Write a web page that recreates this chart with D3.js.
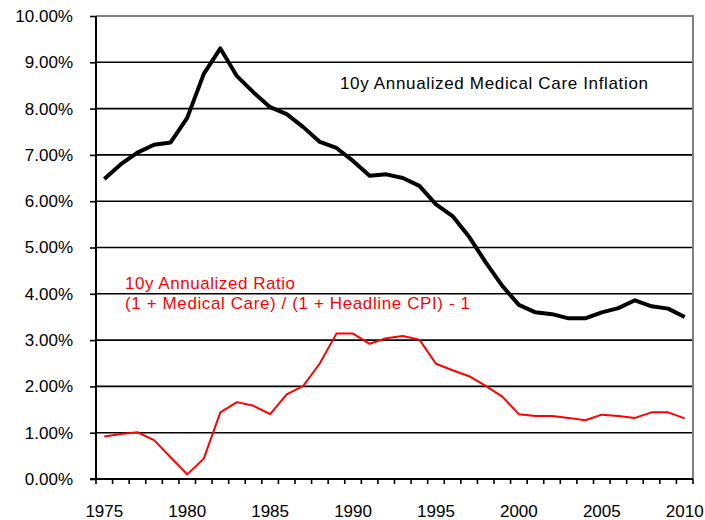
<!DOCTYPE html>
<html>
<head>
<meta charset="utf-8">
<script src="https://cdn.jsdelivr.net/npm/d3@7"></script>
<style>
  body { margin: 0; background: #fff; }
  svg text { font-family: "Liberation Sans", Arial, sans-serif; }
</style>
</head>
<body>
<div id="chart"></div>
<script>
// 10y annualized rates, in percent
var years = d3.range(1975, 2011);
var medicalCare = [6.48, 6.80, 7.05, 7.22, 7.27, 7.80, 8.75, 9.30, 8.70, 8.35,
    8.03, 7.88, 7.60, 7.28, 7.15, 6.87, 6.55, 6.58, 6.50, 6.33,
    5.93, 5.68, 5.23, 4.68, 4.17, 3.76, 3.60, 3.56, 3.47, 3.47,
    3.60, 3.69, 3.86, 3.73, 3.68, 3.50];
var ratio = [0.92, 0.97, 1.01, 0.84, 0.47, 0.10, 0.44, 1.44, 1.66, 1.58,
    1.40, 1.83, 2.01, 2.50, 3.14, 3.14, 2.92, 3.04, 3.09, 3.01,
    2.49, 2.35, 2.22, 2.01, 1.78, 1.40, 1.36, 1.36, 1.32, 1.27,
    1.39, 1.36, 1.32, 1.44, 1.44, 1.31];
var yTicks = d3.range(0, 11);
var xLabels = [1975, 1980, 1985, 1990, 1995, 2000, 2005, 2010];

var width = 705, height = 520;
var plotLeft = 96, plotRight = 693, plotTop = 16, plotBottom = 479;

var svg = d3.select("#chart").append("svg")
    .attr("width", width)
    .attr("height", height);

var x = d3.scaleBand().domain(years).range([plotLeft, plotRight]);
var y = d3.scaleLinear().domain([0, 10]).range([plotBottom, plotTop]);
var cx = d => x(d) + x.bandwidth() / 2;

// gridlines
svg.append("g")
    .selectAll("line")
    .data(yTicks.filter(d => d > 0 && d < 10))
    .join("line")
    .attr("x1", plotLeft).attr("x2", plotRight)
    .attr("y1", d => y(d)).attr("y2", d => y(d))
    .attr("stroke", "#000")
    .attr("stroke-width", 1.6);

// plot border (top, right)
svg.append("path")
    .attr("d", `M${plotLeft},${plotTop}H${plotRight}V${plotBottom}`)
    .attr("fill", "none")
    .attr("stroke", "#808080")
    .attr("stroke-width", 2);

// y axis
var yAxis = g => g
    .attr("transform", `translate(${plotLeft},0)`)
    .call(d3.axisLeft(y).tickValues(yTicks).tickSize(6).tickPadding(17)
        .tickFormat(d => d3.format(".2f")(d) + "%"))
    .call(g => g.select(".domain").attr("stroke-width", 2).attr("d", `M0,${plotTop}V${plotBottom}`))
    .call(g => g.selectAll(".tick line").attr("stroke-width", 1.6))
    .call(g => g.selectAll("text").attr("font-size", "17px").attr("fill", "#000"));

svg.append("g").call(yAxis);

// x axis: ticks between categories, labels every 5 years
var xAxis = g => g
    .attr("transform", `translate(0,${plotBottom})`)
    .call(g => g.append("line")
        .attr("x1", plotLeft - 6).attr("x2", plotRight)
        .attr("stroke", "#000").attr("stroke-width", 2))
    .call(g => g.append("g")
        .selectAll("line")
        .data(years.concat([2011]))
        .join("line")
        .attr("x1", d => d === 2011 ? plotRight : x(d))
        .attr("x2", d => d === 2011 ? plotRight : x(d))
        .attr("y1", 0).attr("y2", 5)
        .attr("stroke", "#000").attr("stroke-width", 1.6))
    .call(g => g.append("g")
        .selectAll("text")
        .data(xLabels)
        .join("text")
        .attr("x", cx)
        .attr("y", 38)
        .attr("text-anchor", "middle")
        .attr("font-size", "17px")
        .text(d => d));

svg.append("g").call(xAxis);

var line = d3.line()
    .x((d, i) => cx(years[i]))
    .y(d => y(d));

svg.append("path")
    .datum(ratio)
    .attr("fill", "none")
    .attr("stroke", "#ff0000")
    .attr("stroke-width", 2)
    .attr("stroke-linejoin", "round")
    .attr("d", line);

svg.append("path")
    .datum(medicalCare)
    .attr("fill", "none")
    .attr("stroke", "#000")
    .attr("stroke-width", 4)
    .attr("stroke-linejoin", "round")
    .attr("d", line);

// annotations
svg.append("text")
    .attr("x", 340).attr("y", 89)
    .attr("font-size", "17px")
    .attr("textLength", 308)
    .text("10y Annualized Medical Care Inflation");

svg.append("text")
    .attr("x", 125).attr("y", 289)
    .attr("font-size", "17px")
    .attr("fill", "#ff0000")
    .attr("textLength", 170)
    .text("10y Annualized Ratio");

svg.append("text")
    .attr("x", 125).attr("y", 309)
    .attr("font-size", "17px")
    .attr("fill", "#ff0000")
    .attr("textLength", 345)
    .text("(1 + Medical Care) / (1 + Headline CPI) - 1");
</script>
</body>
</html>
